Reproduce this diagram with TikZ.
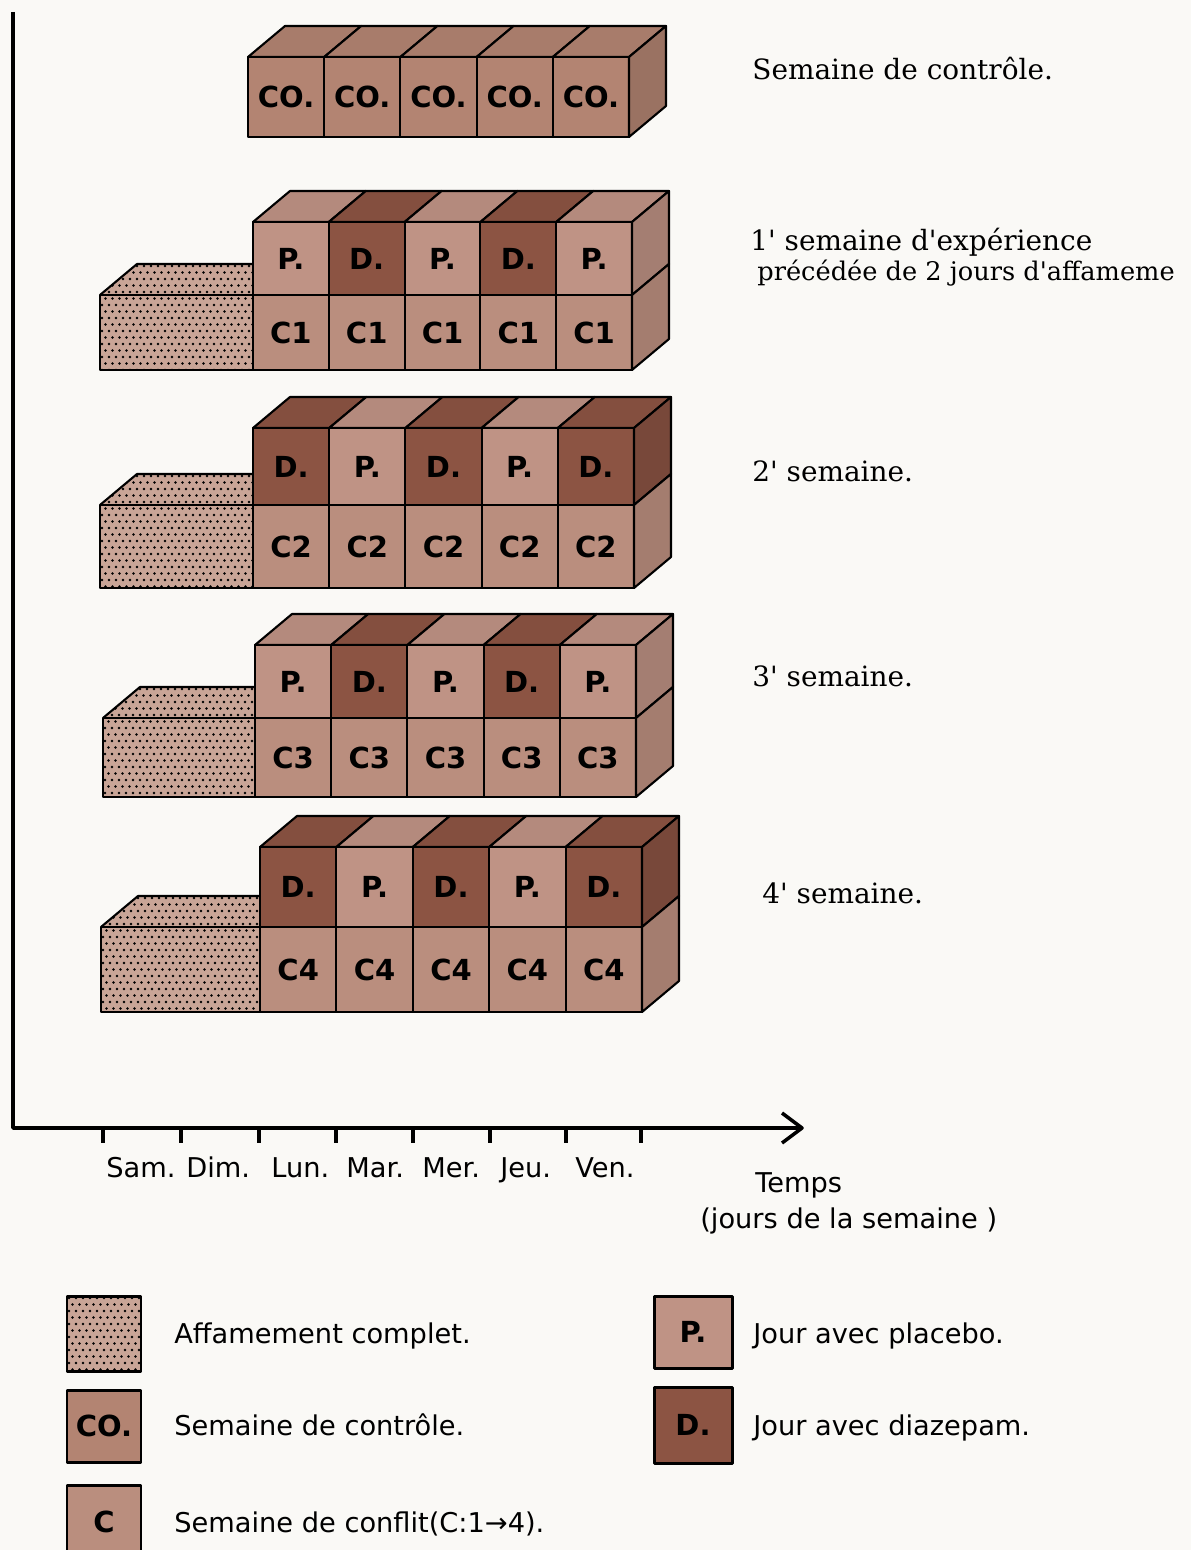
\documentclass[tikz,border=0pt]{standalone}
\usepackage{fontspec}
\setmainfont{DejaVu Serif}
\setsansfont{DejaVu Sans}
\usetikzlibrary{calc}
\definecolor{colP}{HTML}{BF9385}
\definecolor{colD}{HTML}{8C5443}
\definecolor{colC}{HTML}{BA8E7E}
\definecolor{colCO}{HTML}{B38472}
\definecolor{colS}{HTML}{C9A597}
\definecolor{bgc}{HTML}{FAF9F6}
\tikzset{
  edge/.style={draw=black, line width=1.2pt, line join=round},
  axisl/.style={draw=black, line width=2pt, line join=round},
  celltxt/.style={font=\sffamily\bfseries\fontsize{16.5}{17}\selectfont, inner sep=0pt},
  axtxt/.style={font=\sffamily\fontsize{15.5}{18}\selectfont, inner sep=0pt, anchor=base west},
  sertxt/.style={font=\fontsize{15.9}{19}\selectfont, inner sep=0pt, anchor=base west},
  swatch/.style={draw=black, line width=1.7pt, line join=round},
}
\newcommand\DX{37}
\newcommand\DY{31}
\newcommand\apo{\textquotesingle}
% dotted area: #1 clip path, #2 x0, #3 y0, #4 ncols, #5 nrows
\newcommand\dotsin[5]{%
  \begin{scope}
    \clip #1;
    \fill[colS] #1;
    \foreach \a in {0,...,#4}{\foreach \b in {0,...,#5}{%
      \fill[black] ({#2+\a*7+3.5*mod(\b,2)},{#3+\b*6.5}) circle[radius=0.8pt];}}
  \end{scope}}
% starvation block: #1 xS, #2 xL, #3 yM, #4 yB
\newcommand\starv[4]{%
  \dotsin{(#1,#4) -- (#1,#3) -- ({#1+\DX},{#3-\DY}) -- (#2,{#3-\DY}) -- (#2,#4) -- cycle}{#1+2}{#3-\DY+2}{23}{18}%
  \draw[edge] (#1,#4) rectangle (#2,#3);
  \draw[edge] (#1,#3) -- ({#1+\DX},{#3-\DY}) -- (#2,{#3-\DY});
}
% week row: #1 id, #2 xL, #3 xR, #4 yT, #5 yM, #6 yB, #7 sequence, #8 label
\newcommand\weekrow[8]{%
  \pgfmathsetmacro\cw{(#3-#2)/5}%
  \foreach \kind [count=\i from 0] in {#7}{%
    \pgfmathsetmacro\xa{#2+\i*\cw}%
    \pgfmathsetmacro\xb{#2+(\i+1)*\cw}%
    \filldraw[edge,fill=col\kind!94!black] (\xa,#4) -- ({\xa+\DX},{#4-\DY}) -- ({\xb+\DX},{#4-\DY}) -- (\xb,#4) -- cycle;
    \filldraw[edge,fill=col\kind] (\xa,#4) rectangle (\xb,#5);
    \node[celltxt] (r#1u\i) at ({(\xa+\xb)/2},{(#4+#5)/2}) {\kind.};
    \filldraw[edge,fill=colC] (\xa,#5) rectangle (\xb,#6);
    \node[celltxt] (r#1l\i) at ({(\xa+\xb)/2},{(#5+#6)/2}) {#8};
    \ifnum\i=4
      \filldraw[edge,fill=col\kind!86!black] (#3,#4) -- ({#3+\DX},{#4-\DY}) -- ({#3+\DX},{#5-\DY}) -- (#3,#5) -- cycle;
      \filldraw[edge,fill=colC!88!black] (#3,#5) -- ({#3+\DX},{#5-\DY}) -- ({#3+\DX},{#6-\DY}) -- (#3,#6) -- cycle;
    \fi
  }%
}
\begin{document}
\begin{tikzpicture}[x=0.02cm,y=-0.02cm]
\fill[bgc] (0,0) rectangle (1191,1550);
\useasboundingbox (0,0) rectangle (1191,1550);

% ---- control week
\foreach \i in {0,...,4}{%
  \pgfmathsetmacro\xa{248+\i*76.2}%
  \pgfmathsetmacro\xb{248+(\i+1)*76.2}%
  \filldraw[edge,fill=colCO!94!black] (\xa,57) -- ({\xa+\DX},{57-\DY}) -- ({\xb+\DX},{57-\DY}) -- (\xb,57) -- cycle;
  \filldraw[edge,fill=colCO] (\xa,57) rectangle (\xb,137);
  \node[celltxt] (co\i) at ({(\xa+\xb)/2},97) {CO.};
}
\filldraw[edge,fill=colCO!86!black] (629,57) -- ({629+\DX},{57-\DY}) -- ({629+\DX},{137-\DY}) -- (629,137) -- cycle;

% ---- weeks 1-4
\starv{100}{253}{295}{370}
\weekrow{1}{253}{632}{222}{295}{370}{P,D,P,D,P}{C1}
\starv{100}{253}{505}{588}
\weekrow{2}{253}{634}{428}{505}{588}{D,P,D,P,D}{C2}
\starv{103}{255}{718}{797}
\weekrow{3}{255}{636}{645}{718}{797}{P,D,P,D,P}{C3}
\starv{101}{260}{927}{1012}
\weekrow{4}{260}{642}{847}{927}{1012}{D,P,D,P,D}{C4}

% ---- row labels
\node[sertxt] (l0) at (752,80) {Semaine de contrôle.};
\node[sertxt] (l1a) at (750,251) {1\apo{} semaine d\apo expérience};
\node[sertxt, font=\fontsize{14.6}{18}\selectfont] (l1b) at (757,281) {précédée de 2 jours d\apo affameme};
\node[sertxt] (l2) at (752,481) {2\apo{} semaine.};
\node[sertxt] (l3) at (752,686) {3\apo{} semaine.};
\node[sertxt] (l4) at (762,903) {4\apo{} semaine.};

% ---- axes
\coordinate (ytop) at (13,12);
\coordinate (orig) at (13,1128);
\coordinate (xend) at (802,1128);
\coordinate (barbA) at (782,1113);
\coordinate (barbB) at (782,1143);
\draw[axisl] (ytop) -- (orig) -- (xend);
\draw[axisl] (barbA) -- (xend) -- (barbB);
\foreach \x in {103,181,259,336,413,490,566,641}
  \draw[axisl] (\x,1128) -- (\x,1143);
\node[axtxt] (d1) at (106,1177) {Sam.};
\node[axtxt] (d2) at (186,1177) {Dim.};
\node[axtxt] (d3) at (271,1177) {Lun.};
\node[axtxt] (d4) at (346,1177) {Mar.};
\node[axtxt] (d5) at (422,1177) {Mer.};
\node[axtxt] (d6) at (500,1177) {Jeu.};
\node[axtxt] (d7) at (575,1177) {Ven.};
\node[axtxt] (temps) at (755,1192) {Temps};
\node[axtxt] (jours) at (700,1228) {(jours de la semaine )};

% ---- legend
\dotsin{(67,1296) rectangle (141,1371)}{69}{1298}{11}{12}
\draw[swatch] (67,1296) rectangle (141,1371);
\node[axtxt] (lg1) at (174,1343) {Affamement complet.};

\filldraw[swatch,fill=colCO] (67,1390) rectangle (141,1462);
\node[celltxt] (lgco) at (104,1426) {CO.};
\node[axtxt] (lg2) at (174,1435) {Semaine de contrôle.};

\fill[colC] (67,1485) rectangle (141,1550);
\draw[swatch] (67,1551) -- (67,1485) -- (141,1485) -- (141,1551);
\node[celltxt] (lgc) at (104,1522) {C};
\node[axtxt] (lg3) at (174,1532) {Semaine de conflit(C:1→4).};

\filldraw[swatch,fill=colP] (654,1296) rectangle (732,1368);
\node[celltxt] (lgp) at (693,1332) {P.};
\node[axtxt] (lg4) at (753,1343) {Jour avec placebo.};

\filldraw[swatch,fill=colD] (654,1387) rectangle (732,1463);
\node[celltxt] (lgd) at (693,1425) {D.};
\node[axtxt] (lg5) at (753,1435) {Jour avec diazepam.};
\end{tikzpicture}
\end{document}
